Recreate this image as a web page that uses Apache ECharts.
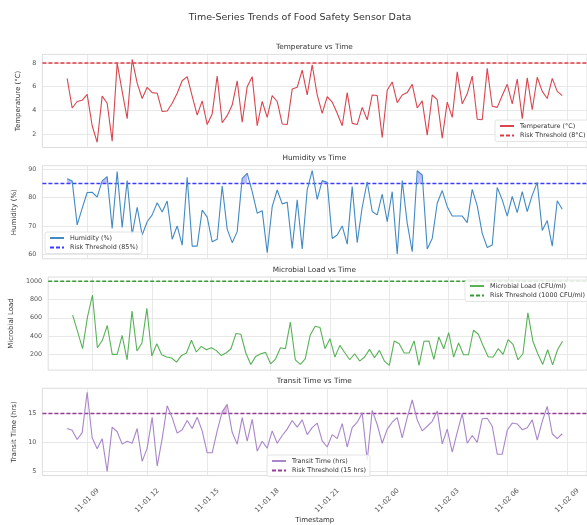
<!DOCTYPE html>
<html>
<head>
<meta charset="utf-8">
<script src="https://cdn.jsdelivr.net/npm/echarts@6/dist/echarts.min.js"></script>
<style>
  html, body { margin: 0; padding: 0; background: #ffffff; }
  #chart { width: 587px; height: 525px; }
</style>
</head>
<body>
<div id="chart"></div>
<script>
// Sensor readings, one every 15 minutes starting 2023-11-01 08:00
const startHour = 8;          // hours after 11-01 00:00
const stepHours = 0.25;       // 15-minute sampling

const temperature = [
  6.7, 4.2, 4.75, 4.85, 5.35, 2.7, 1.3, 5.2, 4.6, 1.4,
  8.0, 5.6, 3.3, 8.3, 6.3, 5.0, 5.95, 5.5, 5.45, 3.9,
  3.95, 4.6, 5.45, 6.5, 6.85, 5.2, 3.6, 4.8, 2.8, 3.7,
  6.9, 2.95, 3.55, 4.45, 6.5, 3.0, 6.0, 6.85, 2.7, 4.75,
  3.4, 5.25, 4.75, 2.85, 2.8, 5.8, 5.95, 7.4, 5.3, 7.85,
  5.3, 3.75, 5.15, 4.7, 3.75, 2.7, 5.5, 2.9, 2.8, 4.25,
  3.2, 5.3, 5.25, 1.7, 5.7, 6.4, 4.65, 5.3, 5.5, 6.2,
  4.2, 4.8, 1.9, 5.3, 4.9, 1.65, 4.7, 3.4, 7.25, 4.55,
  5.4, 6.9, 3.25, 3.2, 7.55, 4.35, 4.25, 5.25, 6.2, 4.55,
  6.65, 3.3, 6.75, 4.05, 6.8, 5.6, 5.0, 6.7, 5.6, 5.25
];

const humidity = [
  86.7, 85.9, 70.4, 76.2, 81.8, 81.9, 80.2, 85.9, 87.4, 69.1,
  89.2, 69.5, 86.0, 67.0, 76.6, 66.8, 71.5, 73.9, 78.2, 74.9,
  78.8, 65.3, 70.0, 63.2, 87.2, 62.9, 62.9, 75.6, 73.1, 64.4,
  65.3, 84.1, 68.9, 64.1, 68.0, 86.8, 88.6, 82.1, 74.5, 75.4,
  60.6, 76.8, 82.7, 77.8, 78.4, 62.1, 79.2, 61.9, 82.7, 89.5,
  79.4, 86.0, 85.4, 65.6, 66.8, 70.0, 63.6, 83.9, 64.1, 76.6,
  85.6, 75.1, 73.9, 81.2, 71.5, 82.1, 60.1, 86.0, 71.0, 60.9,
  89.5, 88.0, 61.9, 65.6, 78.0, 82.5, 76.8, 73.5, 73.5, 73.5,
  71.2, 82.9, 77.1, 67.4, 62.4, 63.3, 83.6, 79.2, 73.5, 80.4,
  74.7, 82.1, 75.1, 80.9, 85.4, 68.4, 71.9, 62.9, 78.9, 75.9
];

const microbialLoad = [
  629, 450, 262, 611, 850, 273, 354, 516, 200, 200,
  409, 141, 673, 237, 325, 703, 182, 317, 196, 171,
  160, 116, 189, 215, 354, 226, 288, 251, 273, 244,
  189, 215, 262, 428, 420, 215, 90, 178, 207, 222,
  97, 149, 273, 262, 552, 141, 90, 152, 409, 508,
  494, 262, 372, 171, 299, 218, 141, 207, 127, 171,
  255, 163, 244, 127, 79, 347, 317, 215, 215, 347,
  79, 343, 347, 145, 391, 262, 439, 171, 325, 196,
  196, 464, 420, 288, 171, 171, 262, 200, 361, 310,
  141, 207, 655, 347, 207, 90, 251, 86, 251, 343
];

const transitTime = [
  12.4, 12.1, 10.5, 11.7, 18.7, 10.8, 8.9, 10.65, 4.95, 12.65,
  11.85, 9.7, 10.2, 9.85, 12.4, 6.7, 9.0, 14.35, 5.9, 10.65,
  16.35, 14.3, 11.6, 12.2, 13.8, 12.4, 14.35, 12.0, 8.2, 8.2,
  12.0, 15.3, 16.6, 11.75, 9.7, 14.3, 10.2, 14.0, 8.5, 10.2,
  9.0, 12.0, 9.85, 11.2, 12.3, 13.8, 12.65, 13.9, 11.35, 12.55,
  13.35, 10.25, 9.2, 11.35, 10.65, 13.25, 9.2, 12.55, 13.5, 15.1,
  6.85, 15.55, 13.1, 9.85, 12.3, 13.5, 14.3, 10.8, 14.3, 17.35,
  13.9, 12.0, 12.8, 13.65, 15.45, 9.75, 12.3, 8.3, 11.75, 15.0,
  9.85, 11.2, 10.0, 14.1, 14.2, 12.8, 7.95, 7.95, 12.1, 13.35,
  13.2, 12.2, 12.55, 13.9, 10.4, 13.65, 16.25, 11.5, 10.65, 11.5
];

// Risk thresholds
const thresholds = [8, 85, 1000, 15];

// Shared time axis ticks (hours after 11-01 00:00) and their labels
const xTickHours  = [9, 12, 15, 18, 21, 24, 27, 30, 33];
const xTickLabels = ['11-01 09', '11-01 12', '11-01 15', '11-01 18', '11-01 21',
                     '11-02 00', '11-02 03', '11-02 06', '11-02 09'];

// Value axis ticks per panel
const yTicks = [
  [2, 4, 6, 8],
  [60, 70, 80, 90],
  [200, 400, 600, 800, 1000],
  [5, 10, 15]
];

const panelTitles = ['Temperature vs Time', 'Humidity vs Time', 'Microbial Load vs Time', 'Transit Time vs Time'];
const yAxisNames  = ['Temperature (°C)', 'Humidity (%)', 'Microbial Load', 'Transit Time (hrs)'];
const seriesNames = ['Temperature (°C)', 'Humidity (%)', 'Microbial Load (CFU/ml)', 'Transit Time (hrs)'];
const thresholdNames = ['Risk Threshold (8°C)', 'Risk Threshold (85%)', 'Risk Threshold (1000 CFU/ml)', 'Risk Threshold (15 hrs)'];

const FONT = 'DejaVu Sans';
const values = [temperature, humidity, microbialLoad, transitTime];
const lineColors = ['#d9464f', '#428ac4', '#56b356', '#a985ca'];
const threshColors = ['#e23a44', '#3c3cff', '#3a9a3a', '#963c96'];
const fillColors = ['rgba(255,0,0,0.22)', 'rgba(0,0,255,0.25)', 'rgba(0,128,0,0.22)', 'rgba(128,0,128,0.25)'];
const DASH = [4, 2];

// Layout of the four stacked panels
const gridLeft = 42.4, gridWidth = 545.9, gridHeight = 93.1;
const gridTops = [54.4, 165.7, 277.0, 388.3];
const yRanges = [[0.86, 8.73], [58.41, 91.27], [28, 1047], [4.25, 19.38]];
const yNameGaps = [17, 21, 29, 21];
const xMin = startHour - 0.05 * 24.75;
const xMax = startHour + 24.75 + 0.05 * 24.75;

const legendPos = [
  { left: 495, top: 120 },
  { left: 45, top: 232 },
  { left: 465, top: 280 },
  { left: 267, top: 455 }
];

const hours = temperature.map((_, i) => startHour + i * stepHours);

// Segments between consecutive readings that both sit above the threshold
function exceedSegments(vals, thr) {
  const segs = [];
  for (let i = 0; i + 1 < vals.length; i++) {
    if (vals[i] > thr && vals[i + 1] > thr) {
      segs.push([hours[i], vals[i], hours[i + 1], vals[i + 1], thr]);
    }
  }
  return segs;
}

function renderExceedBand(color) {
  return function (params, api) {
    const x0 = api.value(0), y0 = api.value(1), x1 = api.value(2), y1 = api.value(3), t = api.value(4);
    const pts = [api.coord([x0, t]), api.coord([x0, y0]), api.coord([x1, y1]), api.coord([x1, t])];
    return { type: 'polygon', shape: { points: pts }, style: { fill: color, stroke: null }, silent: true };
  };
}

const chart = echarts.init(document.getElementById('chart'), null, { renderer: 'canvas' });

const grids = [], xAxes = [], yAxes = [], series = [], legends = [];
const titles = [{
  text: 'Time-Series Trends of Food Safety Sensor Data',
  left: 300, textAlign: 'center', top: 12.5, padding: 0,
  textStyle: { fontFamily: FONT, fontSize: 9.5, fontWeight: 'normal', color: '#333' }
}];

for (let k = 0; k < 4; k++) {
  const vals = values[k];
  const thr = thresholds[k];
  grids.push({
    left: gridLeft, top: gridTops[k], width: gridWidth, height: gridHeight,
    show: true, borderColor: '#d4d4d4', borderWidth: 0.8, backgroundColor: 'transparent'
  });
  titles.push({
    text: panelTitles[k], left: gridLeft + gridWidth / 2 - 1, textAlign: 'center',
    top: gridTops[k] - 10.6, padding: 0,
    textStyle: { fontFamily: FONT, fontSize: 7.3, fontWeight: 'normal', color: '#333' }
  });
  xAxes.push({
    type: 'value', gridIndex: k, min: xMin, max: xMax,
    axisLine: { show: false },
    axisTick: { show: false, customValues: xTickHours },
    axisLabel: {
      show: k === 3, customValues: xTickHours,
      formatter: v => xTickLabels[xTickHours.indexOf(v)] || '',
      rotate: 45, align: 'center', verticalAlign: 'middle', margin: 25,
      fontFamily: FONT, fontSize: 6.9, color: '#555'
    },
    splitLine: { show: true, lineStyle: { color: '#e2e2e2', width: 0.8 } },
    name: k === 3 ? 'Timestamp' : '', nameLocation: 'middle', nameGap: 37,
    nameTextStyle: { fontFamily: FONT, fontSize: 7, color: '#333' }
  });
  yAxes.push({
    type: 'value', gridIndex: k, min: yRanges[k][0], max: yRanges[k][1],
    axisLine: { show: false },
    axisTick: { show: false, customValues: yTicks[k] },
    axisLabel: {
      customValues: yTicks[k], formatter: v => String(v), margin: 6,
      fontFamily: FONT, fontSize: 6.4, color: '#555'
    },
    splitLine: { show: true, lineStyle: { color: '#e2e2e2', width: 0.8 } },
    name: yAxisNames[k], nameLocation: 'middle', nameRotate: 90, nameGap: yNameGaps[k],
    nameTextStyle: { fontFamily: FONT, fontSize: 7, color: '#333' }
  });

  // Shaded band where readings exceed the risk threshold
  series.push({
    type: 'custom', xAxisIndex: k, yAxisIndex: k, silent: true,
    renderItem: renderExceedBand(fillColors[k]),
    encode: { x: [0, 2], y: [1, 3] },
    data: exceedSegments(vals, thr),
    clip: true, z: 1
  });
  // Reading line
  series.push({
    name: seriesNames[k], type: 'line', xAxisIndex: k, yAxisIndex: k,
    symbol: 'none', showSymbol: false, color: lineColors[k],
    lineStyle: { color: lineColors[k], width: 1.1 },
    itemStyle: { color: lineColors[k] },
    data: vals.map((v, i) => [hours[i], v]),
    z: 3
  });
  // Risk threshold, spanning the full time axis
  series.push({
    name: thresholdNames[k], type: 'line', xAxisIndex: k, yAxisIndex: k,
    symbol: 'none', showSymbol: false, color: threshColors[k], silent: true,
    lineStyle: { color: threshColors[k], width: 1.4, type: DASH },
    itemStyle: { color: threshColors[k] },
    data: [[xMin, thr], [xMax, thr]],
    z: 2
  });
  legends.push({
    data: [seriesNames[k], thresholdNames[k]],
    orient: 'vertical', left: legendPos[k].left, top: legendPos[k].top,
    backgroundColor: 'rgba(255,255,255,0.85)', borderColor: '#dddddd', borderWidth: 0.8,
    borderRadius: 2, padding: [3, 4, 3, 4], itemGap: 3.5,
    itemWidth: 14, itemHeight: 7, selectedMode: false,
    itemStyle: { opacity: 0 },
    textStyle: { fontFamily: FONT, fontSize: 6.4, color: '#333', padding: [0, 0, 0, 1] }
  });
}

chart.setOption({
  animation: false,
  backgroundColor: '#ffffff',
  title: titles,
  grid: grids,
  xAxis: xAxes,
  yAxis: yAxes,
  legend: legends,
  series: series
});
</script>
</body>
</html>
